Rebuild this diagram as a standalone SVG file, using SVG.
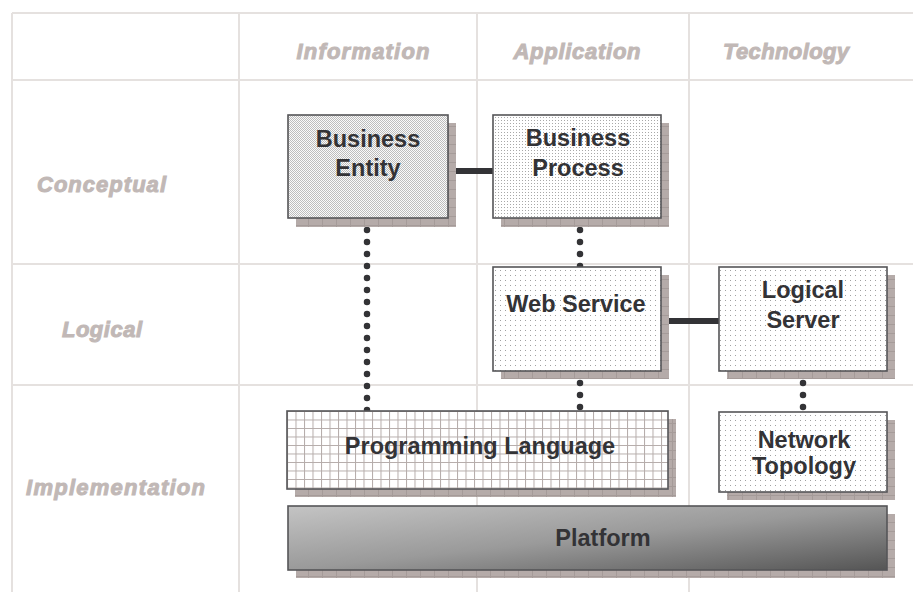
<svg xmlns="http://www.w3.org/2000/svg" width="913" height="592" viewBox="0 0 913 592">
<style>
.grid{stroke:#e5e1df;stroke-width:2;fill:none}
.hdr{font-family:"Liberation Sans",Arial,sans-serif;font-weight:bold;font-style:italic;font-size:22px;fill:#c1b8b6;stroke:#c1b8b6;stroke-width:1}
.lbl{font-family:"Liberation Sans",Arial,sans-serif;font-weight:bold;font-size:23.5px;fill:#333336;text-anchor:middle}
.box{stroke:#555558;stroke-width:1.6}
.shadow{fill:url(#shadowTile)}
.solid{stroke:#333336;stroke-width:6;fill:none}
.dots{stroke:#333336;stroke-width:6.5;stroke-linecap:round;stroke-dasharray:0 12;fill:none}
</style>
<defs>
<pattern id="shadowTile" width="14" height="9" patternUnits="userSpaceOnUse">
<rect width="14" height="9" fill="#b5aba9"/>
<path d="M0 0.5H14M0.5 0V9" stroke="#a59b99" stroke-width="1"/>
</pattern>
<pattern id="checker" width="2" height="2" patternUnits="userSpaceOnUse">
<rect width="2" height="2" fill="#fafafa"/>
<rect width="1" height="1" fill="#bdbdbd"/>
<rect x="1" y="1" width="1" height="1" fill="#bdbdbd"/>
</pattern>
<pattern id="dotsDense" width="3" height="3" patternUnits="userSpaceOnUse">
<rect width="3" height="3" fill="#ffffff"/>
<rect width="1" height="1" fill="#a8a8a8"/>
</pattern>
<pattern id="dotsSparse" width="5" height="5" patternUnits="userSpaceOnUse">
<rect width="5" height="5" fill="#ffffff"/>
<rect width="1" height="1" fill="#a0a0a0"/>
</pattern>
<pattern id="gridFill" width="8.5" height="8.5" patternUnits="userSpaceOnUse" x="287" y="411">
<rect width="8.5" height="8.5" fill="#ffffff"/>
<path d="M0 0.5H8.5M0.5 0V8.5" stroke="#b5acaa" stroke-width="1"/>
</pattern>
<linearGradient id="platGrad" x1="0" y1="0" x2="1" y2="1" gradientUnits="objectBoundingBox">
<stop offset="0" stop-color="#c4c4c4"/>
<stop offset="0.5" stop-color="#9a9a9a"/>
<stop offset="1" stop-color="#555555"/>
</linearGradient>
</defs>

<g id="grid">
<path class="grid" d="M12 13H913M12 80H913M12 264H913M12 385H913M12 13V592M239 13V592M477 13V592M689 13V592"/>
</g>

<g id="headers">
<text class="hdr" x="363" y="59" text-anchor="middle" textLength="133">Information</text>
<text class="hdr" x="577" y="59" text-anchor="middle" textLength="127">Application</text>
<text class="hdr" x="786" y="59" text-anchor="middle" textLength="126">Technology</text>
<text class="hdr" x="37" y="192" textLength="129">Conceptual</text>
<text class="hdr" x="62" y="337" textLength="80">Logical</text>
<text class="hdr" x="26" y="495" textLength="179">Implementation</text>
</g>

<g id="connectors">
<line class="solid" x1="448" y1="171" x2="493" y2="171"/>
<line class="solid" x1="661" y1="321" x2="719" y2="321"/>
<line class="dots" x1="367" y1="218" x2="367" y2="411"/>
<line class="dots" x1="580" y1="218" x2="580" y2="267"/>
<line class="dots" x1="580" y1="371" x2="580" y2="411"/>
<line class="dots" x1="803" y1="371" x2="803" y2="412"/>
</g>

<g id="business-entity">
<rect class="shadow" x="296" y="123" width="160" height="104"/>
<rect class="box" x="288" y="115" width="160" height="103" fill="url(#checker)"/>
<text class="lbl" x="368" y="147">Business</text>
<text class="lbl" x="368" y="176">Entity</text>
</g>

<g id="business-process">
<rect class="shadow" x="501" y="123" width="168" height="104"/>
<rect class="box" x="493" y="115" width="168" height="103" fill="url(#dotsDense)"/>
<text class="lbl" x="578" y="146">Business</text>
<text class="lbl" x="578" y="176">Process</text>
</g>

<g id="web-service">
<rect class="shadow" x="501" y="275" width="168" height="104"/>
<rect class="box" x="493" y="267" width="168" height="104" fill="url(#dotsSparse)"/>
<text class="lbl" x="576" y="312">Web Service</text>
</g>

<g id="logical-server">
<rect class="shadow" x="727" y="275" width="168" height="104"/>
<rect class="box" x="719" y="267" width="168" height="104" fill="url(#dotsSparse)"/>
<text class="lbl" x="803" y="298">Logical</text>
<text class="lbl" x="803" y="328">Server</text>
</g>

<g id="network-topology">
<rect class="shadow" x="727" y="420" width="168" height="80"/>
<rect class="box" x="719" y="412" width="168" height="80" fill="url(#dotsSparse)"/>
<text class="lbl" x="804" y="448">Network</text>
<text class="lbl" x="804" y="474">Topology</text>
</g>

<g id="programming-language">
<rect class="shadow" x="295" y="419" width="381" height="78"/>
<rect class="box" x="287" y="411" width="381" height="78" fill="url(#gridFill)"/>
<text class="lbl" x="480" y="454">Programming Language</text>
</g>

<g id="platform">
<rect class="shadow" x="296" y="514" width="599" height="64"/>
<rect class="box" x="288" y="506" width="599" height="64" fill="url(#platGrad)"/>
<text class="lbl" x="603" y="546">Platform</text>
</g>
</svg>
